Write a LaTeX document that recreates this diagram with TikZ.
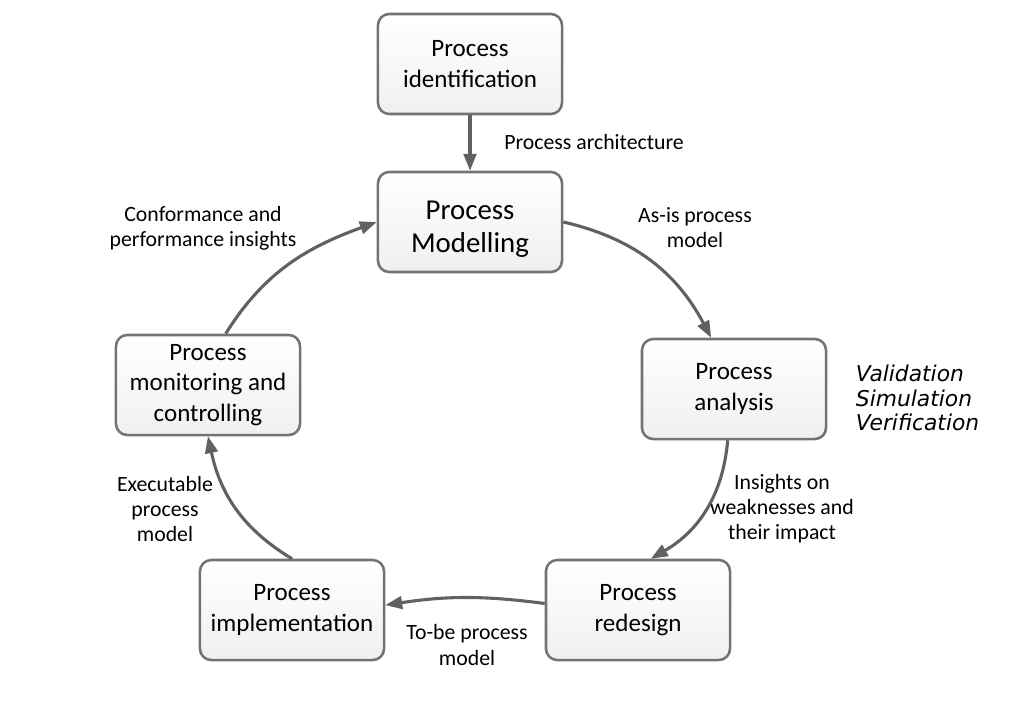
\documentclass[tikz,border=0pt]{standalone}
\usepackage{fontspec}
\setmainfont{Carlito}
\newfontfamily\dvsans{DejaVu Sans}
\usetikzlibrary{arrows.meta}

\begin{document}
\begin{tikzpicture}[%
            x=0.025cm, y=0.025cm,
            >={Triangle[length=12pt,width=9pt]},
            stage/.style={draw=black!55, line width=1.8pt, rounded corners=8pt,
                top color=white, bottom color=black!6,
                minimum width=4.6cm, minimum height=2.5cm, align=center,
                font=\fontsize{17.8}{21.5}\selectfont},
            lbl/.style={align=center, font=\fontsize{15.5}{17.8}\selectfont},
            flow/.style={->, draw=black!62, line width=2.2pt}
            ]
            \useasboundingbox (0,0) rectangle (1010,-702);

            \node[stage] (ident) at (470,-64) {Process\\identification};
            \node[stage, font=\fontsize{20.5}{23.5}\selectfont] (model) at (470,-222) {\rule{0pt}{23pt}Process\\Modelling};
            \node[stage] (anal) at (734,-389) {Process\\analysis};
            \node[stage] (redes) at (638,-610) {Process\\redesign};
            \node[stage] (impl) at (292,-610) {Process\\implementation};
            \node[stage] (monit) at (208,-385) {Process\\monitoring and\\controlling};

            \node[lbl] (archlbl) at (594,-142) {Process architecture};
            \node[lbl] (asislbl) at (695,-228) {As-is process\\model};
            \node[lbl] (insightlbl) at (782,-509) {Insights on\\weaknesses and\\their impact};
            \node[lbl] (tobelbl) at (467,-645) {To-be process\\model};
            \node[lbl] (execlbl) at (165,-509) {Executable\\process\\model};
            \node[lbl] (conflbl) at (203,-228) {Conformance and\\performance insights};
            \node[anchor=west, align=left, font={\dvsans\itshape\fontsize{15.5}{17.4}\selectfont}] (checks) at (851,-398) {Validation\\Simulation\\Verification};

            \path (ident) edge[flow] (model);
            \path (model.east) edge[flow, out=-13, in=118] (anal.114);
            \path (anal.263) edge[flow, out=-95, in=30] (redes.76);
            \path (redes.176) edge[flow, bend right=8] (impl.3);
            \path (impl.north) edge[flow, out=149, in=-78] (monit.south);
            \path (monit.71) edge[flow, out=58, in=200] (model.west);
        \end{tikzpicture}
\end{document}
